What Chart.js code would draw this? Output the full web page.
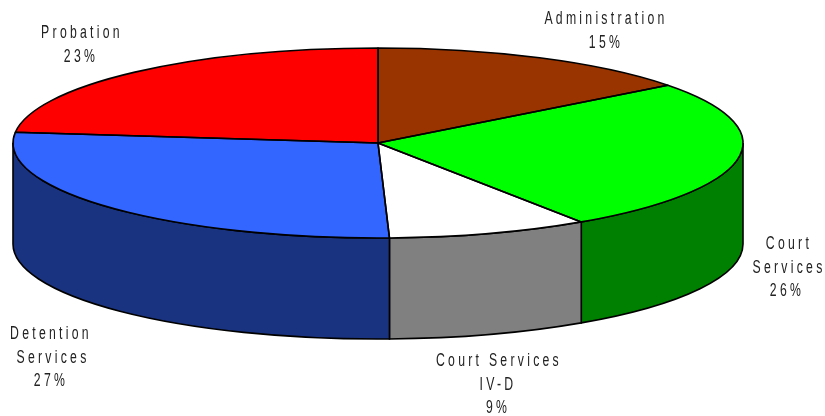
<!DOCTYPE html>
<html>
<head>
<meta charset="utf-8">
<title>Budget by department</title>
<script src="https://cdn.jsdelivr.net/npm/chart.js@4/dist/chart.umd.min.js"></script>
<style>
  html, body { margin: 0; padding: 0; background: #fff; }
  canvas { display: block; }
</style>
</head>
<body>
<canvas id="myChart" width="825" height="416"></canvas>
<script>
//------------------------------Data-----------------
const labelSLICE = ['Administration', 'Court Services', 'Court Services IV-D', 'Detention Services', 'Probation'];
const dataSLICE = [14.6, 26.0, 8.9, 27.3, 23.2];
const textSLICE = [
    ['Administration', '15%'],
    ['Court', 'Services', '26%'],
    ['Court Services', 'IV-D', '9%'],
    ['Detention', 'Services', '27%'],
    ['Probation', '23%']
];

//------------------------------Style-----------------
const topColors = ['#993300', '#00ff00', '#ffffff', '#3366ff', '#ff0000'];
const wallColors = ['#4d1a00', '#008000', '#808080', '#1a3380', '#800000'];
const stretchX = 365 / 95;   // the library draws a circle, we widen it to the ellipse
const wallDepth = 101;
const lineW = 1.6;

// x centre of each text line and first baseline, line gap is the same for all
const textSpots = [
    { y: 24, xs: [606, 606] },
    { y: 249, xs: [789, 789, 787] },
    { y: 366, xs: [499, 498, 498] },
    { y: 339, xs: [51, 53, 51] },
    { y: 38, xs: [82, 81] }
];
const lineGap = 23.5;
const textSquash = 0.68;

//------------------------------Plugin for the fake 3D-----------------
function arcInfo(chart) {
    return chart.getDatasetMeta(0).data.map(a => a.getProps(['x', 'y', 'startAngle', 'endAngle', 'outerRadius'], true));
}

const pie3d = {
    id: 'pie3d',
    beforeDatasetsDraw(chart) {
        const ctx = chart.ctx;
        // walls, only the front half of the rim shows
        arcInfo(chart).forEach((a, i) => {
            const s = Math.max(a.startAngle, 0);
            const e = Math.min(a.endAngle, Math.PI);
            if (s >= e) return;
            const rx = a.outerRadius * stretchX;
            ctx.beginPath();
            ctx.ellipse(a.x, a.y, rx, a.outerRadius, 0, s, e);
            ctx.ellipse(a.x, a.y + wallDepth, rx, a.outerRadius, 0, e, s, true);
            ctx.closePath();
            ctx.fillStyle = wallColors[i];
            ctx.fill();
            ctx.strokeStyle = '#000';
            ctx.lineWidth = lineW;
            ctx.stroke();
        });
        const a0 = arcInfo(chart)[0];
        ctx.save();
        ctx.translate(a0.x, a0.y);
        ctx.scale(stretchX, 1);
        ctx.translate(-a0.x, -a0.y);
    },
    afterDatasetsDraw(chart) {
        const ctx = chart.ctx;
        ctx.restore();
        // outline after the restore so the stroke stays even
        arcInfo(chart).forEach(a => {
            ctx.beginPath();
            ctx.moveTo(a.x, a.y);
            ctx.ellipse(a.x, a.y, a.outerRadius * stretchX, a.outerRadius, 0, a.startAngle, a.endAngle);
            ctx.closePath();
            ctx.strokeStyle = '#000';
            ctx.lineWidth = lineW;
            ctx.lineJoin = 'round';
            ctx.stroke();
        });
    },
    afterDraw(chart) {
        const ctx = chart.ctx;
        ctx.font = '18px "Liberation Sans", sans-serif';
        ctx.letterSpacing = '4.8px';
        ctx.fillStyle = '#222';
        ctx.textAlign = 'center';
        textSLICE.forEach((lines, i) => {
            lines.forEach((line, j) => {
                ctx.save();
                ctx.translate(textSpots[i].xs[j], textSpots[i].y + j * lineGap);
                ctx.scale(textSquash, 1);
                ctx.fillText(line, 0, 0);
                ctx.restore();
            });
        });
    }
};

//------------------------------Chart-----------------
const configPIE = {
    type: 'pie',
    data: {
        labels: labelSLICE,
        datasets: [{
            data: dataSLICE,
            backgroundColor: topColors,
            borderWidth: 0,
            clip: false
        }]
    },
    options: {
        responsive: false,
        animation: false,
        layout: {
            // leaves a 730 x 190 area centred on the top of the pie
            padding: { left: 13, right: 82, top: 48, bottom: 178 }
        },
        plugins: {
            legend: { display: false },
            tooltip: { enabled: false }
        }
    },
    plugins: [pie3d]
};

var chartPIE = new Chart(document.getElementById('myChart'), configPIE);
</script>
</body>
</html>
